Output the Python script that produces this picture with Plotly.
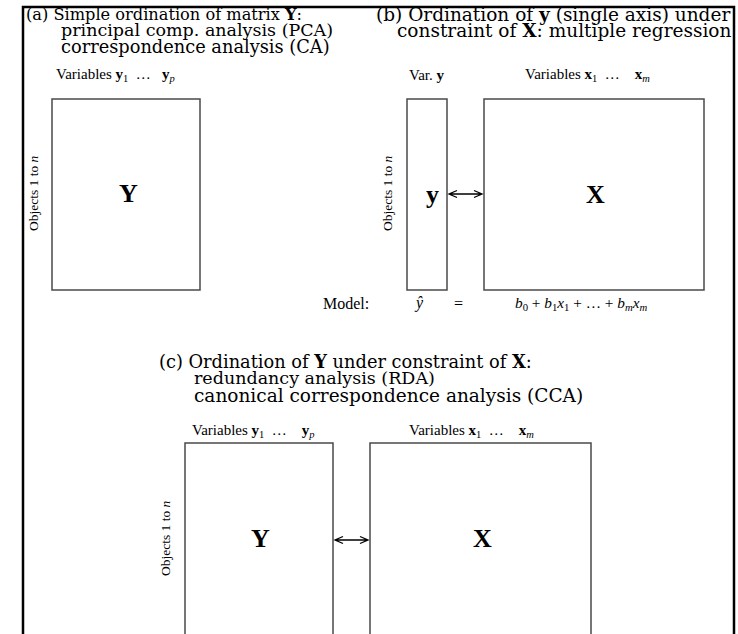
import plotly.graph_objects as go

W, H = 738, 634

# ---- diagram content (pixel coordinate space of the figure) ----
frame_left, frame_top, frame_right = 23, 7, 734

title_texts = [
    "(a) Simple ordination of matrix <b>Y</b>:",
    "principal comp. analysis (PCA)",
    "correspondence analysis (CA)",
    "(b) Ordination of <b>y</b> (single axis) under",
    "constraint of <b>X</b>: multiple regression",
    "(c) Ordination of <b>Y</b> under constraint of <b>X</b>:",
    "redundancy analysis (RDA)",
    "canonical correspondence analysis (CCA)",
]
title_x = [24, 59, 59, 374, 395, 157, 192, 192]
title_y = [14, 30, 46, 14, 30, 361, 378, 395]
title_size = [16.2, 17.5, 17.8, 18.5, 18.5, 17.8, 17.5, 18.5]

box_x0 = [52, 407, 484]
box_x1 = [200, 447, 704]
box_y0 = [99, 99, 99]
box_y1 = [290, 290, 290]

obox_x0 = [185, 370]
obox_x1 = [333, 591]
obox_top = [443, 443]

head_texts = [
    "Variables <b>y</b><sub>1</sub>  …   <b>y</b><sub><i>p</i></sub>",
    "Var. <b>y</b>",
    "Variables <b>x</b><sub>1</sub>  …    <b>x</b><sub><i>m</i></sub>",
    "Variables <b>y</b><sub>1</sub>  …    <b>y</b><sub><i>p</i></sub>",
    "Variables <b>x</b><sub>1</sub>  …    <b>x</b><sub><i>m</i></sub>",
]
head_x = [54, 407, 523, 190, 407]
head_y = [75, 75, 75, 431, 431]

mat_texts = ["Y", "y", "X", "Y", "X"]
mat_x = [128, 432, 595, 260, 482]
mat_y = [193, 194, 194, 538, 538]

obj_x = [33, 387, 165]
obj_y = [193, 193, 538]

arr_x0 = [449, 335]
arr_x1 = [482, 368]
arr_y = [194, 540]

model_texts = ["Model:", "<i>ŷ</i>", "=",
               "<i>b</i><sub>0</sub> + <i>b</i><sub>1</sub><i>x</i><sub>1</sub> + … + <i>b<sub>m</sub>x<sub>m</sub></i>"]
model_x = [321, 412, 452, 513]
model_y = [303, 303, 303, 303]
model_size = [16, 16, 16, 15.3]

SERIF = "Liberation Serif, Times New Roman, serif"
WIDE_SERIF = "DejaVu Serif, serif"

fig = go.Figure()
fig.add_trace(go.Scatter(x=[0, W], y=[0, H], mode="markers",
                         marker=dict(opacity=0), hoverinfo="skip", showlegend=False))

shapes = []
shapes.append(dict(type="path", xref="x", yref="y",
                   path=f"M {frame_left},{H+10} L {frame_left},{frame_top} L {frame_right},{frame_top} L {frame_right},{H+10}",
                   line=dict(color="black", width=2.5)))
for x0, x1, y0, y1 in zip(box_x0, box_x1, box_y0, box_y1):
    shapes.append(dict(type="rect", xref="x", yref="y", x0=x0, x1=x1, y0=y0, y1=y1,
                       line=dict(color="#4a4a4a", width=1.5)))
for x0, x1, t in zip(obox_x0, obox_x1, obox_top):
    shapes.append(dict(type="path", xref="x", yref="y",
                       path=f"M {x0},{H+10} L {x0},{t} L {x1},{t} L {x1},{H+10}",
                       line=dict(color="#4a4a4a", width=1.5)))
for x0, x1, y in zip(arr_x0, arr_x1, arr_y):
    hl, hw = 8, 3.5
    p = (f"M {x0},{y} L {x1},{y} "
         f"M {x0+hl},{y-hw} L {x0},{y} L {x0+hl},{y+hw} "
         f"M {x1-hl},{y-hw} L {x1},{y} L {x1-hl},{y+hw}")
    shapes.append(dict(type="path", xref="x", yref="y", path=p,
                       line=dict(color="black", width=1.3)))

ann = []
for t, x, y, s in zip(title_texts, title_x, title_y, title_size):
    ann.append(dict(text=t, x=x, y=y, xref="x", yref="y", showarrow=False,
                    xanchor="left", yanchor="middle",
                    font=dict(family=WIDE_SERIF, size=s, color="black")))
for t, x, y in zip(head_texts, head_x, head_y):
    ann.append(dict(text=t, x=x, y=y, xref="x", yref="y", showarrow=False,
                    xanchor="left", yanchor="middle",
                    font=dict(family=SERIF, size=15, color="black")))
for t, x, y in zip(mat_texts, mat_x, mat_y):
    ann.append(dict(text=f"<b>{t}</b>", x=x, y=y, xref="x", yref="y", showarrow=False,
                    xanchor="center", yanchor="middle",
                    font=dict(family=SERIF, size=26, color="black")))
for x, y in zip(obj_x, obj_y):
    ann.append(dict(text="Objects 1 to <i>n</i>", x=x, y=y, xref="x", yref="y",
                    showarrow=False, textangle=-90, xanchor="center", yanchor="middle",
                    font=dict(family=SERIF, size=13.5, color="black")))
for t, x, y, s in zip(model_texts, model_x, model_y, model_size):
    ann.append(dict(text=t, x=x, y=y, xref="x", yref="y", showarrow=False,
                    xanchor="left", yanchor="middle",
                    font=dict(family=SERIF, size=s, color="black")))

fig.update_layout(
    width=W, height=H, margin=dict(l=0, r=0, t=0, b=0),
    paper_bgcolor="white", plot_bgcolor="white",
    xaxis=dict(range=[0, W], visible=False, fixedrange=True),
    yaxis=dict(range=[H, 0], visible=False, fixedrange=True),
    shapes=shapes, annotations=ann, showlegend=False,
)
fig.write_html("out.html")
